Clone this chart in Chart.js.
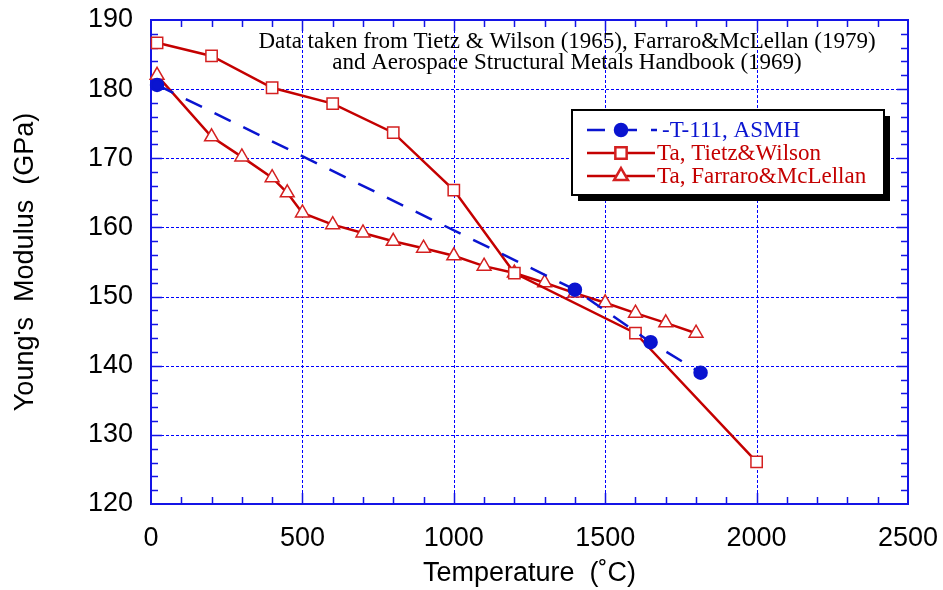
<!DOCTYPE html>
<html>
<head>
<meta charset="utf-8">
<script src="https://cdn.jsdelivr.net/npm/chart.js@4/dist/chart.umd.min.js"></script>
<style>
  html, body { margin: 0; padding: 0; background: #fff; }
  #wrap { width: 943px; height: 590px; position: relative; }
</style>
</head>
<body>
<div id="wrap"><canvas id="chart" width="943" height="590"></canvas></div>
<script>
// data
const asmhT = [20, 1400, 1650, 1815];
const asmhE = [180.6, 151.0, 143.4, 139.0];

const tietzT = [20, 200, 400, 600, 800, 1000, 1200, 1600, 2000];
const tietzE = [186.7, 184.8, 180.2, 177.9, 173.7, 165.4, 153.4, 144.7, 126.1];

const farraroT = [20, 200, 300, 400, 450, 500, 600, 700, 800, 900, 1000, 1100, 1200, 1300, 1400, 1500, 1600, 1700, 1800];
const farraroE = [182.0, 173.1, 170.2, 167.2, 165.0, 162.1, 160.4, 159.2, 158.0, 157.0, 155.9, 154.4, 153.4, 152.0, 150.5, 149.1, 147.6, 146.2, 144.7];

const labels = ["-T-111, ASMH", "Ta, Tietz&Wilson", "Ta, Farraro&McLellan"];
const noteLines = [
  "Data taken from Tietz & Wilson (1965), Farraro&McLellan (1979)",
  "and Aerospace Structural Metals Handbook (1969)"
];

const BLUE = "#0a14d0";
const RED = "#c40000";
const AXIS = "#1414e6";
const SANS = "'Liberation Sans', Arial, sans-serif";
const SERIF = "'Liberation Serif', 'Times New Roman', serif";

const pts = (xs, ys) => xs.map((x, i) => ({ x: x, y: ys[i] }));

// fixed plot box: drop the extra room Chart.js keeps for edge labels
function fixX(s) { s.height = 86; s.paddingLeft = 0; s.paddingRight = 0; }
function fixY(s) { s.width = 151; s.paddingTop = 0; s.paddingBottom = 0; }

// grid, frame, minor ticks, note and legend
const framePlugin = {
  id: "frame",
  beforeDatasetsDraw(chart) {
    const { ctx, chartArea: a, scales: { x, y } } = chart;
    ctx.save();
    ctx.strokeStyle = "#0000ff";
    ctx.lineWidth = 1;
    ctx.setLineDash([3, 2]);
    for (let v = 500; v < 2500; v += 500) {
      const px = Math.round(x.getPixelForValue(v)) + 0.5;
      ctx.beginPath(); ctx.moveTo(px, a.top); ctx.lineTo(px, a.bottom); ctx.stroke();
    }
    for (let v = 130; v < 190; v += 10) {
      const py = Math.round(y.getPixelForValue(v)) + 0.5;
      ctx.beginPath(); ctx.moveTo(a.left, py); ctx.lineTo(a.right, py); ctx.stroke();
    }
    ctx.setLineDash([]);
    ctx.strokeStyle = AXIS;
    ctx.lineWidth = 1.5;
    for (let v = 100; v < 2500; v += 100) {
      const px = Math.round(x.getPixelForValue(v)) + 0.5;
      const len = v % 500 === 0 ? 11 : 7;
      ctx.beginPath();
      ctx.moveTo(px, a.bottom); ctx.lineTo(px, a.bottom - len);
      ctx.moveTo(px, a.top); ctx.lineTo(px, a.top + len);
      ctx.stroke();
    }
    for (let v = 122; v < 190; v += 2) {
      const py = Math.round(y.getPixelForValue(v)) + 0.5;
      const len = v % 10 === 0 ? 11 : 7;
      ctx.beginPath();
      ctx.moveTo(a.left, py); ctx.lineTo(a.left + len, py);
      ctx.moveTo(a.right, py); ctx.lineTo(a.right - len, py);
      ctx.stroke();
    }
    ctx.lineWidth = 2;
    ctx.strokeRect(a.left, a.top, a.right - a.left, a.bottom - a.top);
    ctx.restore();
  },
  afterDraw(chart) {
    const { ctx } = chart;
    const ds = chart.data.datasets;
    ctx.save();
    ctx.fillStyle = "#000";
    ctx.font = "23px " + SERIF;
    ctx.textAlign = "center";
    ctx.textBaseline = "middle";
    ctx.fillText(noteLines[0], 567, 42);
    ctx.fillText(noteLines[1], 567, 63);

    const bx = 572, by = 110, bw = 312, bh = 85;
    ctx.fillStyle = "#000";
    ctx.fillRect(bx + 6, by + 6, bw, bh);
    ctx.fillStyle = "#fff";
    ctx.fillRect(bx, by, bw, bh);
    ctx.strokeStyle = "#000";
    ctx.lineWidth = 2;
    ctx.strokeRect(bx, by, bw, bh);

    ctx.font = "23px " + SERIF;
    ctx.textAlign = "left";
    const rows = [130, 153, 176];
    ds.forEach((d, i) => {
      const ry = rows[i];
      ctx.strokeStyle = d.borderColor;
      ctx.lineWidth = d.borderWidth;
      ctx.setLineDash(d.borderDash || []);
      ctx.beginPath();
      ctx.moveTo(587, ry);
      ctx.lineTo(i === 0 ? 657 : 655, ry);
      ctx.stroke();
      ctx.setLineDash([]);
      ctx.fillStyle = d.pointBackgroundColor;
      ctx.strokeStyle = d.pointBorderColor;
      Chart.helpers.drawPoint(ctx, { pointStyle: d.pointStyle, radius: d.pointRadius, borderWidth: 1.5 }, 621, ry);
      ctx.fillStyle = d.borderColor;
      ctx.fillText(d.label, i === 0 ? 662 : 657, ry + 1);
    });
    ctx.restore();
  }
};

new Chart(document.getElementById("chart"), {
  type: "scatter",
  data: {
    datasets: [
      {
        label: labels[0],
        data: pts(asmhT, asmhE),
        showLine: true,
        borderColor: BLUE,
        borderWidth: 2.5,
        borderDash: [18, 14],
        pointStyle: "circle",
        pointRadius: 6,
        pointBackgroundColor: BLUE,
        pointBorderColor: BLUE,
        clip: false,
      },
      {
        label: labels[1],
        data: pts(tietzT, tietzE),
        showLine: true,
        borderColor: RED,
        borderWidth: 2.5,
        pointStyle: "rect",
        pointRadius: 8,
        pointBorderWidth: 1.5,
        pointBackgroundColor: "#fff",
        pointBorderColor: "#d42020",
        clip: false,
      },
      {
        label: labels[2],
        data: pts(farraroT, farraroE),
        showLine: true,
        borderColor: RED,
        borderWidth: 2.5,
        pointStyle: "triangle",
        pointRadius: 8,
        pointBorderWidth: 1.5,
        pointBackgroundColor: "#fff",
        pointBorderColor: "#d42020",
        clip: false,
      },
    ],
  },
  options: {
    responsive: false,
    animation: false,
    layout: { padding: { top: 20, right: 35, left: 0, bottom: 0 } },
    plugins: { legend: { display: false }, tooltip: { enabled: false } },
    scales: {
      x: {
        type: "linear",
        min: 0,
        max: 2500,
        afterFit: fixX,
        grid: { display: false, drawTicks: false },
        border: { display: false },
        ticks: { stepSize: 500, padding: 18, color: "#000", font: { family: SANS, size: 27 }, callback: (v) => String(v) },
        title: { display: true, text: "Temperature  (˚C)", color: "#000", padding: { top: 0, bottom: 0 }, font: { family: SANS, size: 27 } },
      },
      y: {
        min: 120,
        max: 190,
        afterFit: fixY,
        grid: { display: false, drawTicks: false },
        border: { display: false },
        ticks: { stepSize: 10, padding: 18, color: "#000", font: { family: SANS, size: 27 }, callback: (v) => String(v) },
        title: { display: true, text: "Young's  Modulus  (GPa)", color: "#000", padding: { top: 9, bottom: 0 }, font: { family: SANS, size: 27 } },
      },
    },
  },
  plugins: [framePlugin],
});
</script>
</body>
</html>
